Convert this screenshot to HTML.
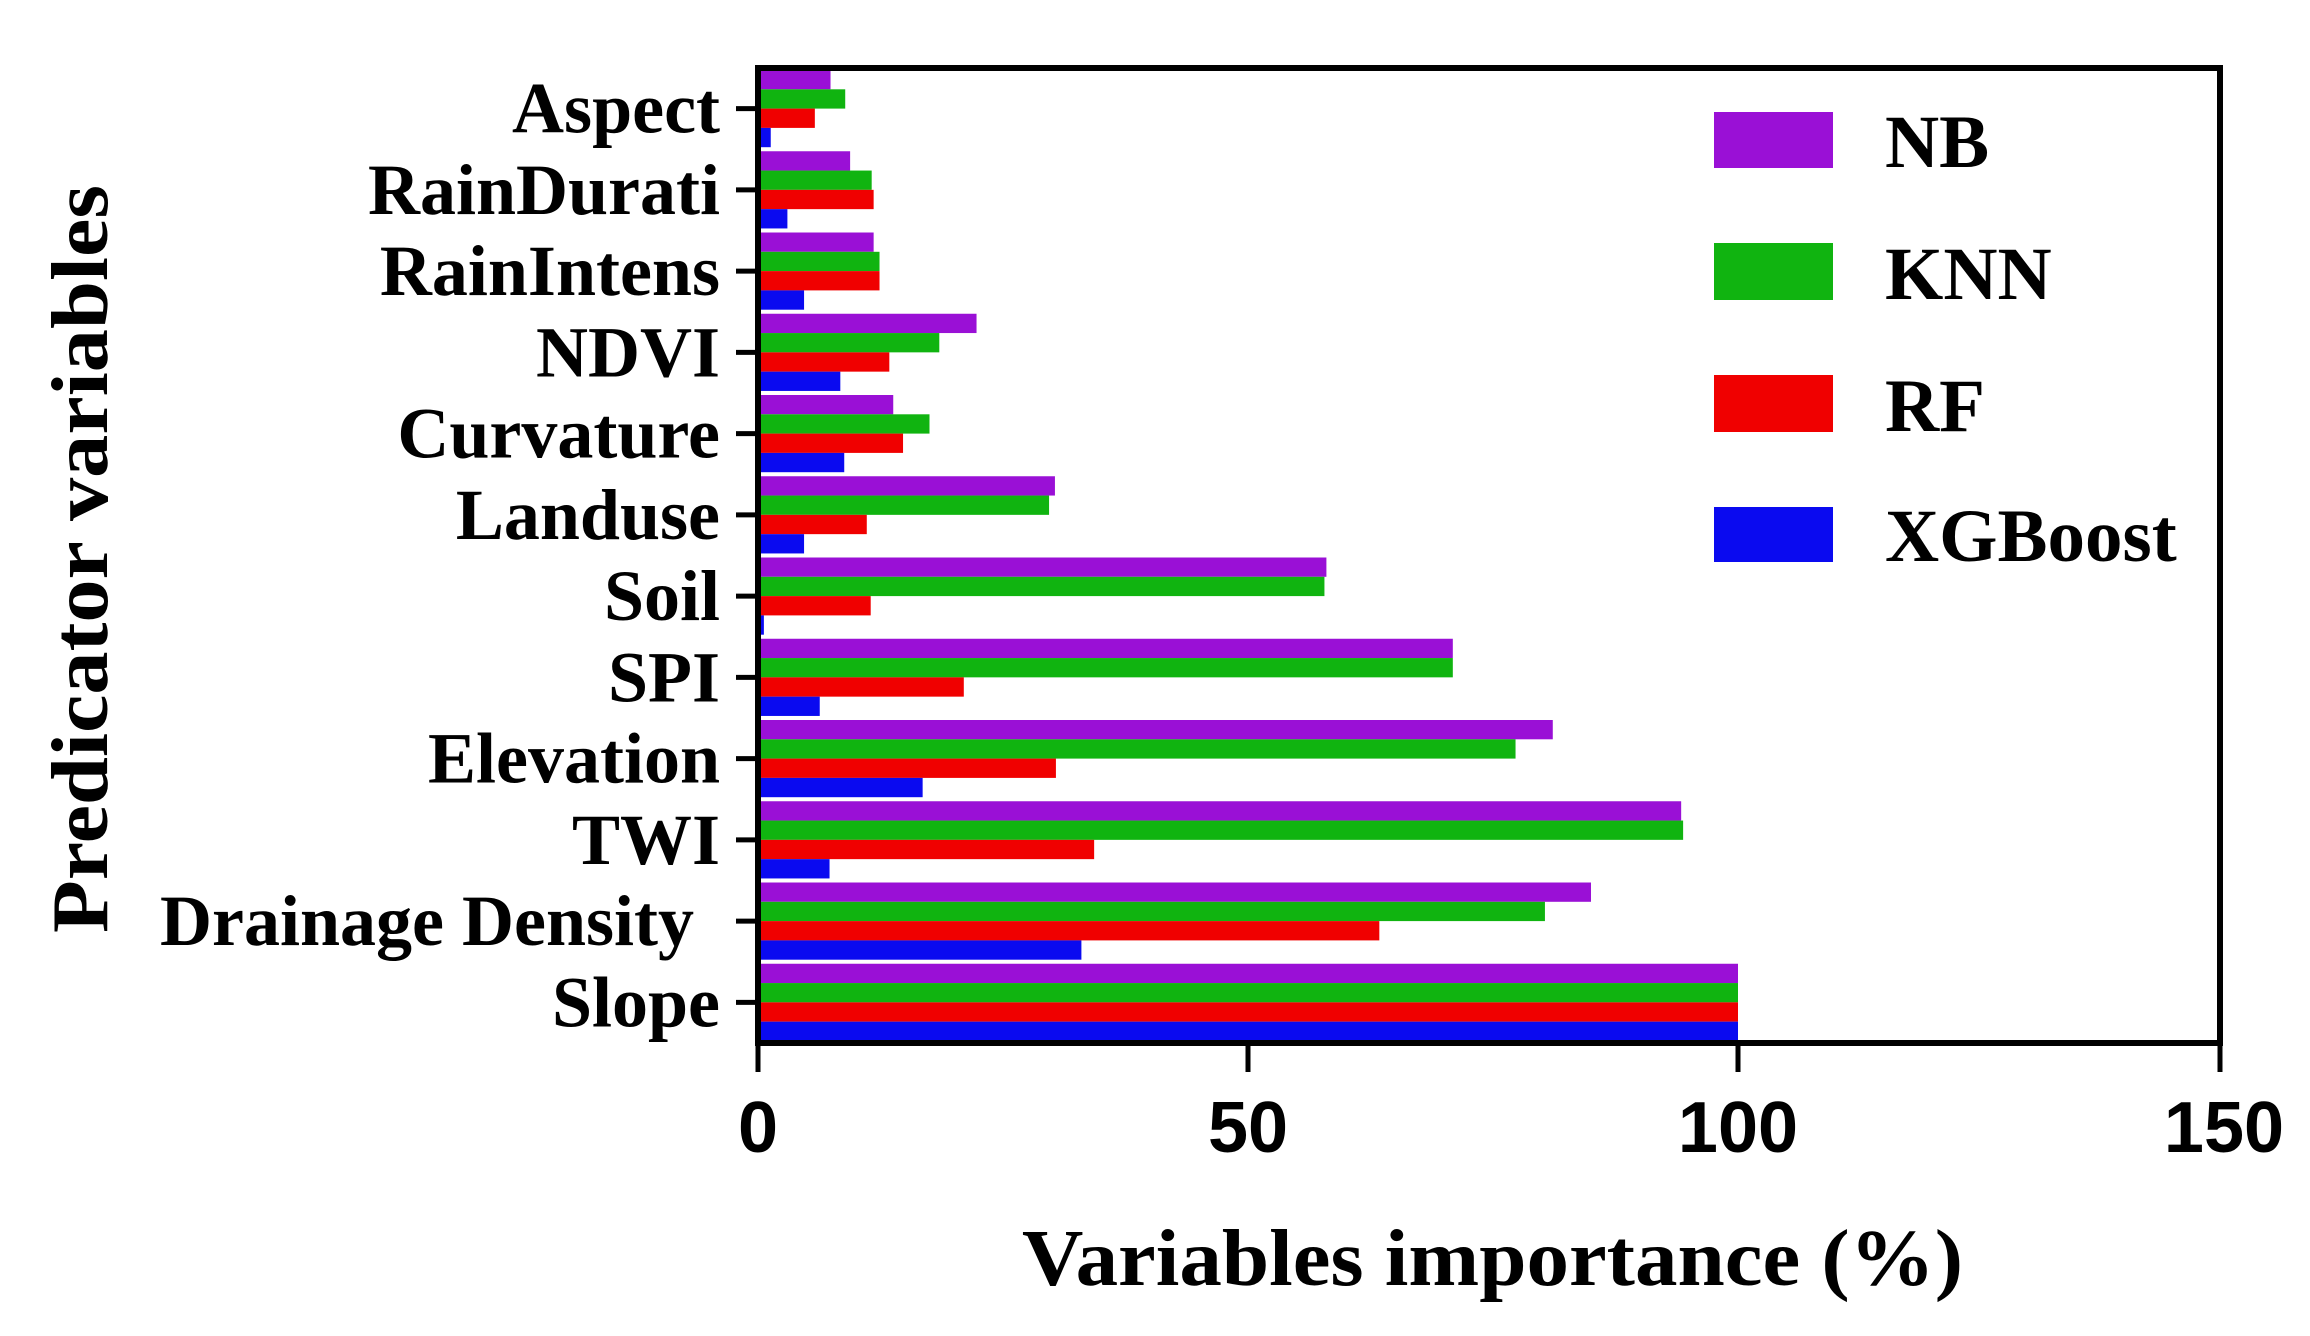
<!DOCTYPE html>
<html><head><meta charset="utf-8"><style>html,body{margin:0;padding:0;background:#fff}svg{display:block}</style></head>
<body>
<svg width="2310" height="1336" viewBox="0 0 2310 1336" xmlns="http://www.w3.org/2000/svg">
<rect width="2310" height="1336" fill="#fff"/>
<g id="bars"></g>
<rect x="758" y="68" width="1462" height="975" fill="none" stroke="#000" stroke-width="6"/>
<g stroke="#000" stroke-width="5">
<line x1="758" y1="1043" x2="758" y2="1072"/>
<line x1="1248" y1="1043" x2="1248" y2="1072"/>
<line x1="1738" y1="1043" x2="1738" y2="1072"/>
<line x1="2220" y1="1043" x2="2220" y2="1072"/>
</g>
<g font-family="Liberation Sans, Arial, sans-serif" font-weight="bold" font-size="72" text-anchor="middle" fill="#000">
<text x="758" y="1152">0</text><text x="1248" y="1152">50</text><text x="1738" y="1152">100</text><text x="2224" y="1152">150</text>
</g>
<g font-family="Liberation Serif, Times New Roman, serif" font-weight="bold" fill="#000">
<text x="1022" y="1285" font-size="80" textLength="941" lengthAdjust="spacingAndGlyphs">Variables importance (%)</text>
<text transform="translate(107,933) rotate(-90)" font-size="80" textLength="748" lengthAdjust="spacingAndGlyphs">Predicator variables</text>
</g>
<g id="labels" font-family="Liberation Serif, Times New Roman, serif" font-weight="bold" font-size="72" text-anchor="end" fill="#000"></g>
<g font-family="Liberation Serif, Times New Roman, serif" font-weight="bold" font-size="75" fill="#000">
<rect x="1714" y="112" width="119" height="56" fill="#9a10d6"/><text x="1885" y="167">NB</text>
<rect x="1714" y="243" width="119" height="57" fill="#10b410"/><text x="1885" y="299">KNN</text>
<rect x="1714" y="375" width="119" height="57" fill="#f00000"/><text x="1885" y="431">RF</text>
<rect x="1714" y="507" width="119" height="55" fill="#0a0af0"/><text x="1885" y="561">XGBoost</text>
</g>
<script>
var names=["Aspect","RainDurati","RainIntens","NDVI","Curvature","Landuse","Soil","SPI","Elevation","TWI","Drainage Density","Slope"];
var v=[[7.4,8.9,5.8,1.3],[9.4,11.6,11.8,3],[11.8,12.4,12.4,4.7],[22.3,18.5,13.4,8.4],[13.8,17.5,14.8,8.8],[30.3,29.7,11.1,4.7],[58,57.8,11.5,0.6],[70.9,70.9,21,6.3],[81.1,77.3,30.4,16.8],[94.2,94.4,34.3,7.3],[85,80.3,63.4,33],[100,100,100,100]];
var col=["#9a10d6","#10b410","#f00000","#0a0af0"];
var ns="http://www.w3.org/2000/svg",b=document.getElementById("bars"),l=document.getElementById("labels");
var g=975/12;
for(var i=0;i<12;i++){var y0=68+g*i+2;
for(var k=0;k<4;k++){var r=document.createElementNS(ns,"rect");r.setAttribute("x",758);r.setAttribute("y",y0+k*19.3);r.setAttribute("width",v[i][k]*9.8);r.setAttribute("height",19.3);r.setAttribute("fill",col[k]);b.appendChild(r);}
var cy=68+g*(i+0.5);
var t=document.createElementNS(ns,"text");t.setAttribute("x",i==10?694:720);t.setAttribute("y",cy+24);t.textContent=names[i];l.appendChild(t);
var tk=document.createElementNS(ns,"line");tk.setAttribute("x1",736);tk.setAttribute("x2",758);tk.setAttribute("y1",cy);tk.setAttribute("y2",cy);tk.setAttribute("stroke","#000");tk.setAttribute("stroke-width",5);l.appendChild(tk);}
</script>
</svg>
</body></html>
